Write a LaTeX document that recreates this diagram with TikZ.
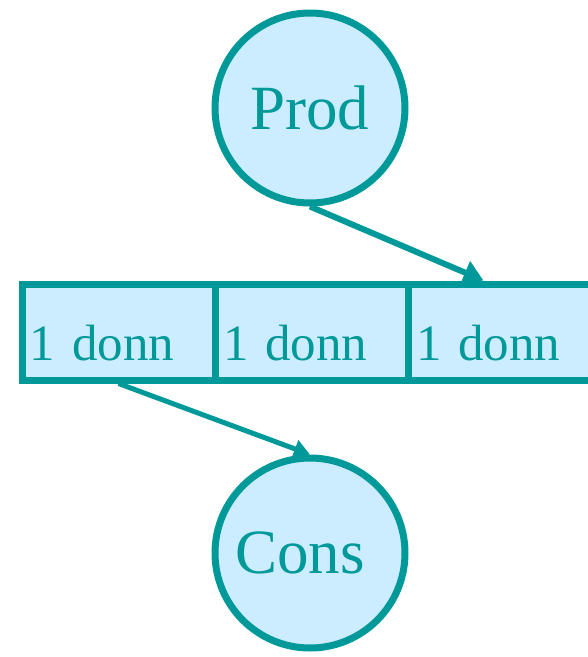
\documentclass[tikz,border=0pt]{standalone}
\usepackage{fontspec}
\setmainfont{Liberation Serif}
\usetikzlibrary{arrows.meta}
\definecolor{teal}{HTML}{009999}
\definecolor{pale}{HTML}{CCECFF}
\begin{document}
\begin{tikzpicture}[x=1pt,y=-1pt,
  proc/.style={draw=teal,fill=pale,circle,line width=7pt,minimum size=190pt,inner sep=0pt,
    text=teal,font=\fontsize{63}{63}\selectfont},
  cell/.style={draw=teal,fill=pale,rectangle,line width=7pt,minimum width=193pt,minimum height=96pt,
    inner xsep=8pt,inner ysep=0pt,text width=177pt,align=left,text height=76pt,text depth=20pt,
    text=teal,font=\fontsize{51}{51}\selectfont}]
  \useasboundingbox (0,0) rectangle (588,657);
  \node[proc] (prod) at (310,108) {Prod};
  \node[proc] (cons) at (310,553) {\hspace*{-20pt}Cons};
  \node[cell] (b1) at (118.5,332) {1 donn};
  \node[cell] (b2) at (311.5,332) {1 donn};
  \node[cell] (b3) at (504.5,332) {1 donn};
  \draw[teal,line width=6pt,-{Triangle[length=20pt,width=24pt]}] (prod.south) -- ([xshift=-21pt]b3.north);
  \draw[teal,line width=5pt,-{Triangle[length=16pt,width=18pt]}] (b1.south) -- (cons.north);
\end{tikzpicture}
\end{document}
